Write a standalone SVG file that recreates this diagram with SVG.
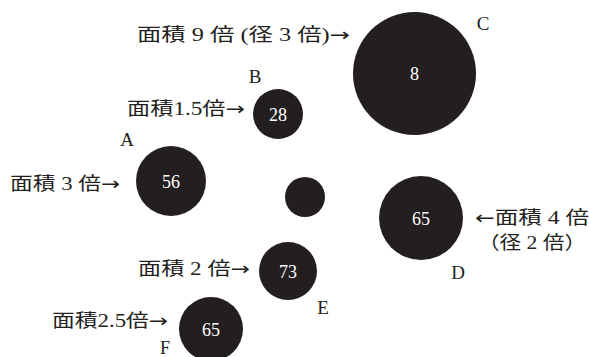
<svg xmlns="http://www.w3.org/2000/svg" width="589" height="357" viewBox="0 0 589 357">
<style>
.c{fill:#231f20}
.n{font-family:"Liberation Serif","Noto Sans CJK JP",serif;font-size:18px;fill:#fff;text-anchor:middle}
.t{font-family:"Liberation Serif","Noto Sans CJK JP",serif;font-size:18px;fill:#231f20}
.a{font-family:"DejaVu Sans",sans-serif;font-weight:normal}
.l{font-family:"Liberation Serif",serif;font-size:19px;fill:#231f20;text-anchor:middle}
</style>
<rect width="589" height="357" fill="#fff"/>
<g id="C"><circle class="c" cx="414.5" cy="73.5" r="61.5"/><text class="n" x="414.5" y="80">8</text><text class="l" x="483" y="30">C</text></g>
<g id="B"><circle class="c" cx="278" cy="114" r="25"/><text class="n" x="278" y="120.5">28</text><text class="l" x="255" y="83">B</text></g>
<g id="A"><circle class="c" cx="171" cy="181" r="35"/><text class="n" x="171" y="187.5">56</text><text class="l" x="127" y="146">A</text></g>
<g id="X"><circle class="c" cx="305" cy="197" r="20"/></g>
<g id="D"><circle class="c" cx="421" cy="218" r="42"/><text class="n" x="421" y="224.5">65</text><text class="l" x="458" y="279">D</text></g>
<g id="E"><circle class="c" cx="288" cy="271" r="29"/><text class="n" x="288" y="277.5">73</text><text class="l" x="323" y="314">E</text></g>
<g id="F"><circle class="c" cx="211" cy="329" r="32"/><text class="n" x="211" y="335.5">65</text><text class="l" x="165" y="354" style="font-size:18px">F</text></g>
<g id="labels">
<text class="t" x="137" y="41" textLength="213" lengthAdjust="spacingAndGlyphs">面積 9 倍 (径 3 倍)<tspan class="a">→</tspan></text>
<text class="t" x="127" y="115" textLength="118" lengthAdjust="spacingAndGlyphs">面積1.5倍<tspan class="a">→</tspan></text>
<text class="t" x="10" y="190" textLength="110" lengthAdjust="spacingAndGlyphs">面積 3 倍<tspan class="a">→</tspan></text>
<text class="t" x="475" y="224" textLength="114" lengthAdjust="spacingAndGlyphs"><tspan class="a">←</tspan>面積 4 倍</text>
<text class="t" x="478" y="249" textLength="108" lengthAdjust="spacingAndGlyphs">（径 2 倍）</text>
<text class="t" x="138" y="275" textLength="112" lengthAdjust="spacingAndGlyphs">面積 2 倍<tspan class="a">→</tspan></text>
<text class="t" x="52" y="327" textLength="116" lengthAdjust="spacingAndGlyphs">面積2.5倍<tspan class="a">→</tspan></text>
</g>
</svg>
